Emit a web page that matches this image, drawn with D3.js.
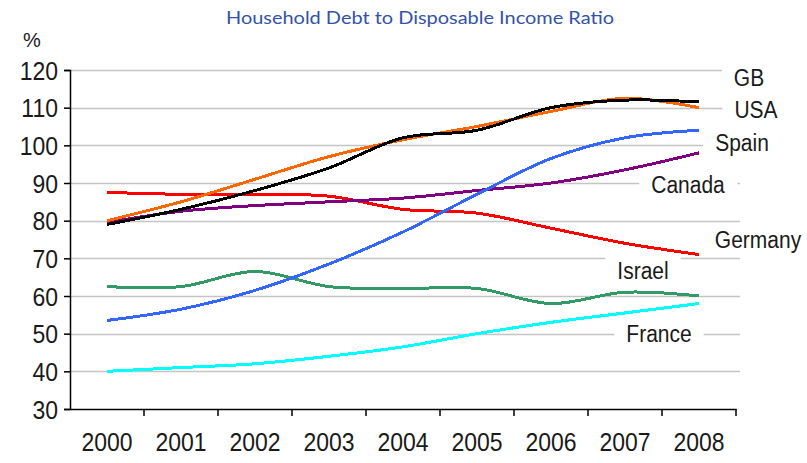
<!DOCTYPE html>
<html>
<head>
<meta charset="utf-8">
<script src="https://cdn.jsdelivr.net/npm/d3@7"></script>
<style>
  body { margin: 0; background: #fff; }
</style>
</head>
<body>
<svg id="chart"></svg>
<script>
// data
const years = ["2000", "2001", "2002", "2003", "2004", "2005", "2006", "2007", "2008"];
const gb      = [79, 83, 88, 94, 102, 104, 110, 112, 111.5];
const usa     = [80, 85, 91, 97, 101.5, 105, 109, 112.5, 110];
const spain   = [53.5, 56.5, 61.5, 68.5, 77, 87, 96.5, 102, 104];
const canada  = [79.5, 82.5, 84, 85, 86, 88, 90, 93.5, 98];
const germany = [87.5, 87, 87, 86.5, 83, 82, 78, 74, 71];
const israel  = [62.5, 62.5, 66.5, 62.5, 62, 62, 58, 61, 60];
const france  = [40, 41, 42, 44, 46.5, 50, 53, 55.5, 58];
const yTicks = [30, 40, 50, 60, 70, 80, 90, 100, 110, 120];

const series = [
    {name: "France",  values: france,  color: "#00ffff", lx: 659, ly: 334},
    {name: "Israel",  values: israel,  color: "#339966", lx: 643, ly: 271},
    {name: "Germany", values: germany, color: "#ff0000", lx: 758, ly: 240},
    {name: "Canada",  values: canada,  color: "#800080", lx: 688, ly: 185},
    {name: "Spain",   values: spain,   color: "#3366ff", lx: 742, ly: 143},
    {name: "USA",     values: usa,     color: "#ff6600", lx: 756, ly: 110},
    {name: "GB",      values: gb,      color: "#000000", lx: 749, ly: 78}
];

const width = 807, height = 463;
const padding = {left: 70, right: 71, top: 70, bottom: 54};
const fontFamily = "'Liberation Sans', Arial, sans-serif";
const textColor = "#1a1a1a";

const svg = d3.select("#chart")
    .attr("width", width)
    .attr("height", height);

const x = d3.scaleBand()
    .domain(years)
    .range([padding.left, width - padding.right]);
const y = d3.scaleLinear()
    .domain([30, 120])
    .range([height - padding.bottom, padding.top]);

// gridlines
svg.append("g")
    .selectAll("line")
    .data(yTicks.filter(d => d > 30))
    .enter()
    .append("line")
    .attr("x1", padding.left)
    .attr("x2", width - padding.right + 4)
    .attr("y1", d => Math.round(y(d)) + 0.5)
    .attr("y2", d => Math.round(y(d)) + 0.5)
    .attr("stroke", "#c4c4c4")
    .attr("stroke-width", 1.5);

// lines
const line = d3.line()
    .x((d, i) => x(years[i]) + x.bandwidth() / 2)
    .y(d => y(d))
    .curve(d3.curveCatmullRom);

svg.append("g")
    .selectAll("path")
    .data(series)
    .enter()
    .append("path")
    .attr("d", d => line(d.values))
    .attr("fill", "none")
    .attr("stroke", d => d.color)
    .attr("stroke-width", 3)
    .attr("shape-rendering", "crispEdges");

// axes
const yAxis = d3.axisLeft(y).tickValues(yTicks).tickSize(6).tickPadding(6);
const gy = svg.append("g")
    .attr("transform", `translate(${padding.left}, 0)`)
    .call(yAxis);
gy.select(".domain").attr("stroke-width", 1.5);
gy.selectAll(".tick line").attr("stroke-width", 1.5);
gy.selectAll("text")
    .attr("font-family", fontFamily)
    .attr("font-size", 23)
    .attr("fill", textColor)
    .attr("dy", 0)
    .attr("transform", "translate(0, 9) scale(1, 1.12)");

const xAxis = d3.axisBottom(x).tickSize(0).tickPadding(0);
const gx = svg.append("g")
    .attr("transform", `translate(0, ${height - padding.bottom})`)
    .call(xAxis);
gx.select(".domain").attr("stroke-width", 1.5);
gx.selectAll("text")
    .attr("font-family", fontFamily)
    .attr("font-size", 23)
    .attr("fill", textColor)
    .attr("y", 0)
    .attr("dy", 0)
    .attr("transform", "translate(0, 42) scale(1, 1.12)");
// boundary ticks between categories
gx.append("g")
    .selectAll("line")
    .data(years)
    .enter()
    .append("line")
    .attr("x1", d => x(d) + x.bandwidth())
    .attr("x2", d => x(d) + x.bandwidth())
    .attr("y1", 0)
    .attr("y2", 7)
    .attr("stroke", "#000")
    .attr("stroke-width", 1.5);

// series labels with white boxes
const labels = svg.append("g")
    .selectAll("g")
    .data(series)
    .enter()
    .append("g")
    .attr("transform", d => `translate(${d.lx}, ${d.ly}) scale(1, 1.1)`);
labels.append("text")
    .text(d => d.name)
    .attr("text-anchor", "middle")
    .attr("dy", "0.35em")
    .attr("font-family", fontFamily)
    .attr("font-size", 21)
    .attr("fill", textColor);
labels.each(function() {
    const g = d3.select(this);
    const b = g.select("text").node().getBBox();
    g.insert("rect", "text")
        .attr("x", b.x - 12)
        .attr("y", b.y - 2)
        .attr("width", b.width + 24)
        .attr("height", b.height + 4)
        .attr("fill", "#fff");
});

// title and unit
svg.append("text")
    .text("Household Debt to Disposable Income Ratio")
    .attr("x", 420)
    .attr("y", 24)
    .attr("text-anchor", "middle")
    .attr("font-family", "Lato, 'Open Sans', sans-serif")
    .attr("font-size", 17)
    .attr("textLength", 388)
    .attr("lengthAdjust", "spacingAndGlyphs")
    .attr("fill", "#3253a8");

svg.append("text")
    .text("%")
    .attr("x", 32)
    .attr("y", 47)
    .attr("text-anchor", "middle")
    .attr("font-family", fontFamily)
    .attr("font-size", 20)
    .attr("fill", textColor);
</script>
</body>
</html>
